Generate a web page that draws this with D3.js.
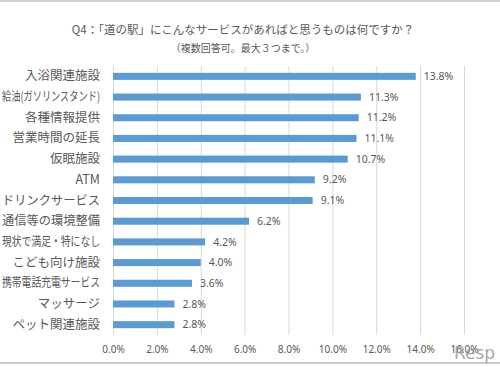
<!DOCTYPE html>
<html>
<head>
<meta charset="utf-8">
<script src="https://cdn.jsdelivr.net/npm/d3@7"></script>
<style>
  body { margin: 0; background: #fff; }
  svg { display: block; font-family: "Noto Sans CJK JP", "Noto Sans", sans-serif; }
</style>
</head>
<body>
<script>
var categories = ["入浴関連施設", "給油(ガソリンスタンド)", "各種情報提供", "営業時間の延長", "仮眠施設", "ATM",
                  "ドリンクサービス", "通信等の環境整備", "現状で満足・特になし", "こども向け施設",
                  "携帯電話充電サービス", "マッサージ", "ペット関連施設"];
var values = [13.8, 11.3, 11.2, 11.1, 10.7, 9.2, 9.1, 6.2, 4.2, 4.0, 3.6, 2.8, 2.8];
var tickValues = [0, 2, 4, 6, 8, 10, 12, 14, 16];

var width = 500, height = 367;
var svg = d3.select('body').append('svg')
            .attr('width', width)
            .attr('height', height);

// frame lines of the screenshot
svg.append('line').attr('x1', 0).attr('x2', width).attr('y1', 1).attr('y2', 1)
   .attr('stroke', '#d0d0d0').attr('stroke-width', 2);
svg.append('line').attr('x1', 0).attr('x2', width).attr('y1', 363).attr('y2', 363)
   .attr('stroke', '#b8b8b8').attr('stroke-width', 1.5);

svg.append('text').attr('x', 243).attr('y', 34).attr('text-anchor', 'middle')
   .attr('font-size', 11.5).attr('fill', '#595959')
   .text('Q4：「道の駅」にこんなサービスがあればと思うものは何ですか？');
svg.append('text').attr('x', 243).attr('y', 52).attr('text-anchor', 'middle')
   .attr('font-size', 10).attr('fill', '#595959')
   .text('（複数回答可。最大３つまで。）');

var x = d3.scaleLinear().domain([0, 16]).range([113, 464]);
var y = d3.scaleBand().domain(categories).range([66, 335]).paddingInner(0.66).paddingOuter(0.33);

// gridlines
svg.append('g').selectAll('line').data(tickValues).enter().append('line')
   .attr('x1', function(d) { return x(d) + 0.5; })
   .attr('x2', function(d) { return x(d) + 0.5; })
   .attr('y1', 66).attr('y2', 335)
   .attr('stroke', '#d9d9d9').attr('stroke-width', 1);

var xAxis = d3.axisBottom(x).tickValues(tickValues)
              .tickFormat(function(d) { return d3.format('.1f')(d) + '%'; })
              .tickSize(0).tickPadding(0);
var xg = svg.append('g').attr('transform', 'translate(0,344)').call(xAxis);
xg.select('.domain').remove();
xg.selectAll('text').attr('font-size', 10).attr('fill', '#595959')
  .attr('font-family', '"Noto Sans", sans-serif').attr('dy', '0.9em');

var yAxis = d3.axisLeft(y).tickSize(0).tickPadding(13);
var yg = svg.append('g').attr('transform', 'translate(113,0)').call(yAxis);
yg.select('.domain').remove();
yg.selectAll('text').attr('font-size', 12.5).attr('fill', '#595959')
  .attr('font-family', '"Noto Sans CJK JP", sans-serif')
  .each(function() {
    // long labels are squeezed so they stay inside the left edge
    if (this.getComputedTextLength() > 98) {
      d3.select(this).attr('textLength', 98).attr('lengthAdjust', 'spacingAndGlyphs');
    }
  });

svg.append('g').selectAll('rect').data(values).enter().append('rect')
   .attr('x', x(0))
   .attr('y', function(d, i) { return y(categories[i]); })
   .attr('width', function(d) { return x(d) - x(0); })
   .attr('height', y.bandwidth())
   .attr('fill', '#5b9bd5');

svg.append('g').selectAll('text').data(values).enter().append('text')
   .attr('x', function(d) { return x(d) + 8; })
   .attr('y', function(d, i) { return y(categories[i]) + y.bandwidth() / 2; })
   .attr('dy', '0.35em')
   .attr('font-size', 10.5).attr('fill', '#595959')
   .attr('font-family', '"Noto Sans", sans-serif')
   .text(function(d) { return d.toFixed(1) + '%'; });

// watermark
svg.append('text').attr('x', 454).attr('y', 359)
   .attr('font-size', 17).attr('fill', '#9a9a9a').attr('opacity', 0.85)
   .attr('font-family', '"DejaVu Sans", sans-serif')
   .text('Resp');
</script>
</body>
</html>
